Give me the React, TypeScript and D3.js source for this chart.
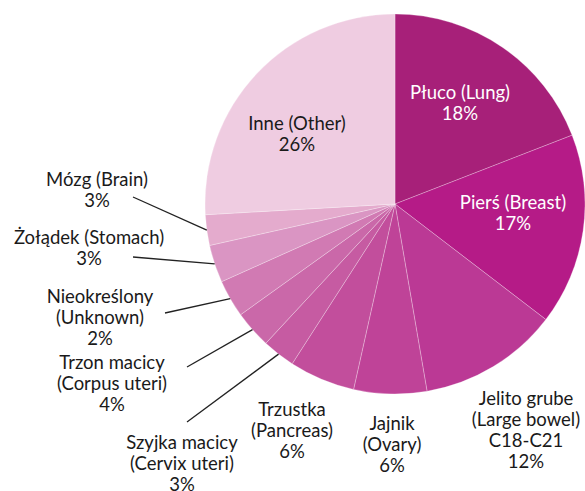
import React from 'react';
import * as d3 from 'd3';

// slices clockwise from 12 o'clock
const names = [
  ['Płuco (Lung)'],
  ['Pierś (Breast)'],
  ['Jelito grube', '(Large bowel)', 'C18-C21'],
  ['Jajnik', '(Ovary)'],
  ['Trzustka', '(Pancreas)'],
  ['Szyjka macicy', '(Cervix uteri)'],
  ['Trzon macicy', '(Corpus uteri)'],
  ['Nieokreślony', '(Unknown)'],
  ['Żołądek (Stomach)'],
  ['Mózg (Brain)'],
  ['Inne (Other)']
];
const pctLabels = ['18%', '17%', '12%', '6%', '6%', '3%', '4%', '2%', '3%', '3%', '26%'];
// slice sizes as drawn in the picture
const shares = [19.1, 16.3, 11.9, 6.2, 5.6, 2.8, 3.2, 3.2, 3.2, 2.6, 25.9];
const colors = [
  '#a72079', '#b51b87', '#bb3995', '#bf4398', '#c24e9c', '#c65ba2',
  '#ca68a9', '#d17ab3', '#da95c3', '#e4abcd', '#efcce1'
];

// layout: label centre (x, first line y), text colour and leader end
const labelPos: { x: number; y: number; light?: boolean; lead?: [number, number] }[] = [
  { x: 460, y: 99, light: true },
  { x: 513, y: 209, light: true },
  { x: 526, y: 405 },
  { x: 392, y: 430 },
  { x: 292, y: 416 },
  { x: 182, y: 449, lead: [187, 422] },
  { x: 112, y: 369, lead: [187, 367] },
  { x: 100, y: 303, lead: [165, 313] },
  { x: 89, y: 244, lead: [133, 257] },
  { x: 97, y: 186, lead: [133, 197] },
  { x: 297, y: 130 }
];

const W = 585;
const H = 491;
const cx = 395;
const cy = 204;
const R = 190;
const lineH = 21;

export default function App() {
  const pie = d3.pie<number>().sort(null).value(d => d);
  const arcs = pie(shares);
  const arc = d3.arc<d3.PieArcDatum<number>>().innerRadius(0).outerRadius(R);
  const edge = d3.arc<d3.PieArcDatum<number>>().innerRadius(R).outerRadius(R);

  return (
    <svg
      width={W}
      height={H}
      style={{ position: 'absolute', left: 0, top: 0, background: '#fff' }}
      fontFamily="Lato, 'Noto Sans', sans-serif"
      fontSize={18.5}
    >
      <g transform={`translate(${cx},${cy})`}>
        {arcs.map((a, i) => (
          <path key={i} d={arc(a) || ''} fill={colors[i]} stroke="#ffffff" strokeOpacity={0.45} strokeWidth={0.6} />
        ))}
        {arcs.map((a, i) => {
          const lp = labelPos[i];
          if (!lp.lead) return null;
          const [x0, y0] = edge.centroid(a);
          return (
            <line
              key={'l' + i}
              x1={x0}
              y1={y0}
              x2={lp.lead[0] - cx}
              y2={lp.lead[1] - cy}
              stroke="#222"
              strokeWidth={1.3}
            />
          );
        })}
      </g>
      {names.map((n, i) => {
        const lp = labelPos[i];
        const lines = [...n, pctLabels[i]];
        return (
          <text key={'t' + i} textAnchor="middle" fill={lp.light ? '#ffffff' : '#1a1a1a'}>
            {lines.map((s, j) => (
              <tspan key={j} x={lp.x} y={lp.y + j * lineH}>
                {s}
              </tspan>
            ))}
          </text>
        );
      })}
    </svg>
  );
}
